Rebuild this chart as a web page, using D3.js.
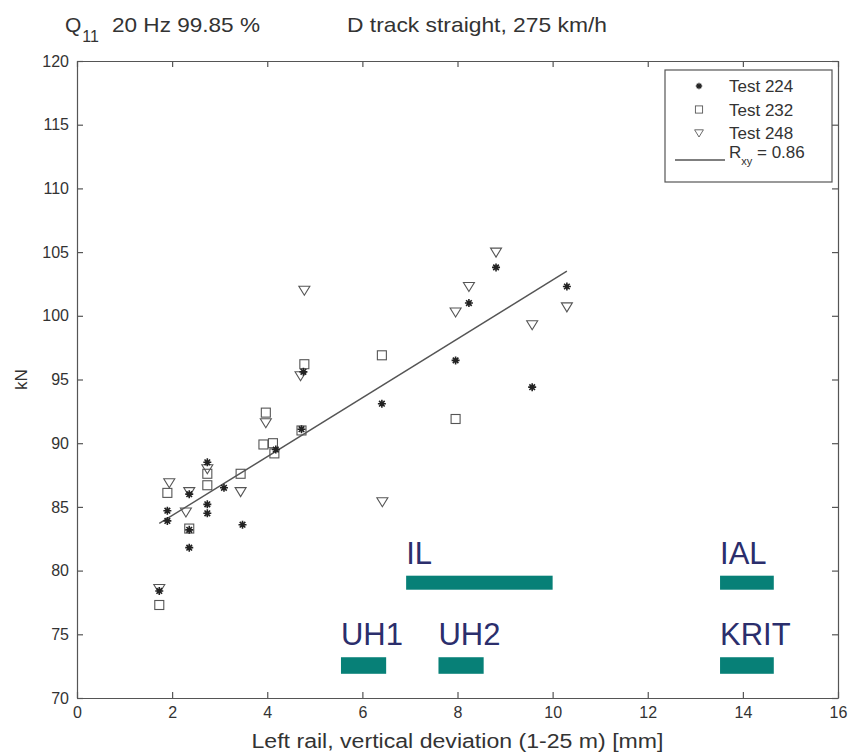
<!DOCTYPE html>
<html>
<head>
<meta charset="utf-8">
<script src="https://cdn.jsdelivr.net/npm/d3@7"></script>
<style>
  body { margin: 0; background: #fff; }
  text { font-family: "Liberation Sans", Arial, sans-serif; }
</style>
</head>
<body>
<div id="chart-area"></div>
<script>
// Test 224 (asterisks)
var t224x = [1.73, 1.90, 1.90, 2.36, 2.36, 2.36, 2.74, 2.74, 2.74, 3.09, 3.48, 4.18, 4.72, 4.76, 6.41, 7.96, 8.24, 8.81, 9.57, 10.30]
var t224y = [78.4, 84.7, 83.9, 86.0, 83.2, 81.8, 88.5, 85.2, 84.5, 86.5, 83.6, 89.5, 91.1, 95.6, 93.1, 96.5, 101.0, 103.8, 94.4, 102.3]
// Test 232 (squares)
var t232x = [1.73, 1.90, 2.36, 2.74, 2.74, 3.44, 3.97, 3.92, 4.12, 4.15, 4.72, 4.78, 6.41, 7.96]
var t232y = [77.3, 86.1, 83.3, 87.6, 86.7, 87.6, 92.4, 89.9, 90.0, 89.2, 91.0, 96.2, 96.9, 91.9]
// Test 248 (triangles)
var t248x = [1.73, 1.94, 2.36, 2.29, 2.74, 3.44, 3.97, 4.70, 4.78, 6.42, 7.96, 8.24, 8.81, 9.57, 10.30]
var t248y = [78.6, 86.9, 86.2, 84.6, 88.0, 86.2, 91.6, 95.3, 102.0, 85.4, 100.3, 102.3, 105.0, 99.3, 100.7]

// regression line
var fitX = [1.73, 10.3]
var fitY = [83.7, 103.5]
var rxy = 0.86

// limit bands
var zoneNames = ["IL", "IAL", "UH1", "UH2", "KRIT"]
var zoneX0 = [6.92, 13.52, 5.55, 7.6, 13.52]
var zoneX1 = [10.0, 14.65, 6.5, 8.55, 14.65]
var zoneY0 = [78.5, 78.5, 71.9, 71.9, 71.9]
var zoneY1 = [79.6, 79.6, 73.2, 73.2, 73.2]

var xTicks = [0, 2, 4, 6, 8, 10, 12, 14, 16]
var yTicks = [70, 75, 80, 85, 90, 95, 100, 105, 110, 115, 120]

var cw = 851
var ch = 755
var m = {l: 77, t: 61, r: 13, b: 57}
var w = cw - m.l - m.r
var h = ch - m.t - m.b

var svg = d3.select("#chart-area").append("svg")
    .attr("width", cw)
    .attr("height", ch)

svg.append("rect")
    .attr("width", cw)
    .attr("height", ch)
    .attr("fill", "#fff")

var g = svg.append("g")
    .attr("transform", "translate(" + m.l + ", " + m.t + ")")

var x = d3.scaleLinear().domain([0, 16]).range([0, w])
var y = d3.scaleLinear().domain([70, 120]).range([h, 0])

// axes with inward ticks on all four sides
var tick = 6
g.append("g")
    .attr("class", "bottom axis")
    .attr("transform", "translate(0, " + h + ")")
    .call(d3.axisBottom(x).tickValues(xTicks).tickSizeInner(-tick).tickSizeOuter(0).tickPadding(9))
g.append("g")
    .attr("class", "top axis")
    .call(d3.axisTop(x).tickValues(xTicks).tickSizeInner(-tick).tickSizeOuter(0).tickFormat(""))
g.append("g")
    .attr("class", "left axis")
    .call(d3.axisLeft(y).tickValues(yTicks).tickSizeInner(-tick).tickSizeOuter(0).tickPadding(8))
g.append("g")
    .attr("class", "right axis")
    .attr("transform", "translate(" + w + ", 0)")
    .call(d3.axisRight(y).tickValues(yTicks).tickSizeInner(-tick).tickSizeOuter(0).tickFormat(""))

g.selectAll(".axis path, .axis line").attr("stroke", "#555").attr("stroke-width", 1.2)
g.selectAll(".axis text")
    .attr("font-size", "16px")
    .attr("fill", "#333")
    .style("font-family", "Liberation Sans, Arial, sans-serif")

// axis labels
g.append("text")
    .attr("x", w / 2)
    .attr("y", h + 50)
    .attr("font-size", "20px")
    .attr("fill", "#333")
    .attr("text-anchor", "middle")
    .attr("textLength", 412)
    .attr("lengthAdjust", "spacingAndGlyphs")
    .text("Left rail, vertical deviation (1-25 m) [mm]")

g.append("text")
    .attr("transform", "translate(-50, " + y(95) + ") rotate(-90)")
    .attr("font-size", "17px")
    .attr("fill", "#333")
    .attr("text-anchor", "middle")
    .text("kN")

// title
var title = svg.append("text")
    .attr("x", 65)
    .attr("y", 32)
    .attr("font-size", "21px")
    .attr("fill", "#333")
title.append("tspan").text("Q")
title.append("tspan").attr("font-size", "16px").attr("dx", 1).attr("dy", 10).text("11")
title.append("tspan").attr("dy", -10).attr("x", 112)
    .attr("textLength", 148).attr("lengthAdjust", "spacingAndGlyphs")
    .text("20 Hz 99.85 %")

svg.append("text")
    .attr("x", 347)
    .attr("y", 32)
    .attr("font-size", "21px")
    .attr("fill", "#333")
    .attr("textLength", 260)
    .attr("lengthAdjust", "spacingAndGlyphs")
    .text("D track straight, 275 km/h")

// limit bands
var zones = zoneNames.map((n, i) => ({name: n, x0: zoneX0[i], x1: zoneX1[i], y0: zoneY0[i], y1: zoneY1[i]}))

g.selectAll("rect.zone")
    .data(zones).enter().append("rect")
        .attr("class", "zone")
        .attr("x", d => x(d.x0))
        .attr("y", d => y(d.y1))
        .attr("width", d => x(d.x1) - x(d.x0))
        .attr("height", d => y(d.y0) - y(d.y1))
        .attr("fill", "#078077")

g.selectAll("text.zone")
    .data(zones).enter().append("text")
        .attr("class", "zone")
        .attr("x", d => x(d.x0))
        .attr("y", d => y(d.y1) - 12)
        .attr("font-size", "31px")
        .attr("fill", "#2b2e6c")
        .text(d => d.name)

// regression line
var line = d3.line().x(d => x(d[0])).y(d => y(d[1]))
g.append("path")
    .datum(fitX.map((v, i) => [v, fitY[i]]))
    .attr("d", line)
    .attr("fill", "none")
    .attr("stroke", "#555")
    .attr("stroke-width", 1.4)

// marker drawing
function star(sel) {
    var r = 4
    sel.append("path")
        .attr("d", "M" + (-r) + ",0H" + r + "M0," + (-r) + "V" + r +
            "M" + (-r * 0.7) + "," + (-r * 0.7) + "L" + (r * 0.7) + "," + (r * 0.7) +
            "M" + (-r * 0.7) + "," + (r * 0.7) + "L" + (r * 0.7) + "," + (-r * 0.7))
        .attr("stroke", "#222")
        .attr("stroke-width", 1.6)
}
function square(sel) {
    sel.append("rect")
        .attr("x", -4.5).attr("y", -4.5)
        .attr("width", 9).attr("height", 9)
        .attr("fill", "none")
        .attr("stroke", "#555")
        .attr("stroke-width", 1.1)
}
function tri(sel) {
    sel.append("path")
        .attr("d", "M-5.5,-4L5.5,-4L0,5Z")
        .attr("fill", "none")
        .attr("stroke", "#555")
        .attr("stroke-width", 1.1)
}

function plotSeries(xs, ys, draw) {
    g.append("g").selectAll("g")
        .data(xs.map((v, i) => [v, ys[i]])).enter().append("g")
            .attr("transform", d => "translate(" + x(d[0]) + ", " + y(d[1]) + ")")
            .call(draw)
}
plotSeries(t232x, t232y, square)
plotSeries(t248x, t248y, tri)
plotSeries(t224x, t224y, star)

// legend
var lg = svg.append("g").attr("transform", "translate(665, 70)")
lg.append("rect")
    .attr("width", 167)
    .attr("height", 112)
    .attr("fill", "#fff")
    .attr("stroke", "#555")
    .attr("stroke-width", 1.2)

var legendItems = [["Test 224", star], ["Test 232", square], ["Test 248", tri]]
legendItems.forEach((it, i) => {
    var row = lg.append("g").attr("transform", "translate(0, " + (16 + i * 23.5) + ")")
    row.append("g").attr("transform", "translate(34, 0) scale(0.8)").call(it[1])
    row.append("text")
        .attr("x", 64)
        .attr("y", 6)
        .attr("font-size", "17px")
        .attr("fill", "#333")
        .text(it[0])
})
var lr = lg.append("g").attr("transform", "translate(0, 90)")
lr.append("line")
    .attr("x1", 10).attr("x2", 60)
    .attr("stroke", "#555").attr("stroke-width", 1.4)
var rt = lr.append("text")
    .attr("x", 64)
    .attr("y", -2)
    .attr("font-size", "17px")
    .attr("fill", "#333")
rt.append("tspan").text("R")
rt.append("tspan").attr("font-size", "11px").attr("dy", 7).text("xy")
rt.append("tspan").attr("dy", -7).text(" = " + rxy.toFixed(2))
</script>
</body>
</html>
